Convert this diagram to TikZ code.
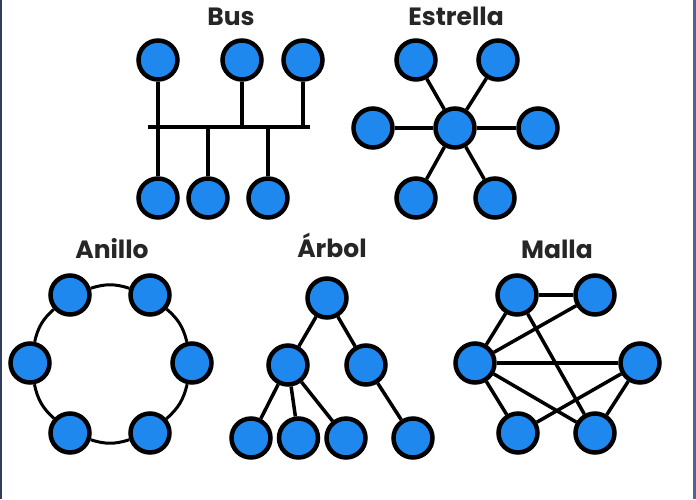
\documentclass[tikz,border=0pt]{standalone}
\usepackage{fontspec}
\setmainfont{Poppins}
\usepackage{xcolor}
\definecolor{nodeblue}{RGB}{30,136,238}
\definecolor{frameleft}{RGB}{47,62,92}
\definecolor{frameright}{RGB}{72,102,150}

\begin{document}
\begin{tikzpicture}[x=1pt,y=-1pt,every node/.style={shape=circle,align=center},
    host/.style={draw,line width=4.5pt,fill=nodeblue,minimum size=39pt,inner sep=0pt},
    link/.style={line width=3.5pt},
    title/.style={shape=rectangle,anchor=base,inner sep=0pt,font=\fontsize{25}{30}\selectfont\bfseries,text=black!85},
    edge from parent/.style={draw,line width=3.5pt},
    level 1/.style={sibling distance=78pt,level distance=67pt},
    level 2/.style={sibling distance=47.5pt,level distance=73pt}]
  \useasboundingbox (0,0) rectangle (696,499);
  \fill[frameleft] (0,0) rectangle (2,499);
  \fill[frameright] (693,0) rectangle (696,499);

  % bus
  \node[title] (tbus) at (231,25) {Bus};
  \node[host] (bus1) at (158,60) {};
  \node[host] (bus2) at (242,60) {};
  \node[host] (bus3) at (303,60) {};
  \node[host] (bus4) at (158,198) {};
  \node[host] (bus5) at (208,198) {};
  \node[host] (bus6) at (268,198) {};
  \coordinate (busL) at (148,127);
  \coordinate (busR) at (310,127);
  \draw[link] (busL) -- (busR);
  \foreach \n in {1,...,6} \draw[link] (bus\n) -- (bus\n |- busL);

  % estrella
  \node[title] (tstar) at (456,25) {Estrella};
  \node[host] (hub) at (455,128) {};
  \node[host] (st1) at (416,60) {};
  \node[host] (st2) at (498,60) {};
  \node[host] (st3) at (538,128) {};
  \node[host] (st4) at (495,198) {};
  \node[host] (st5) at (416,198) {};
  \node[host] (st6) at (373,128) {};
  \foreach \n in {1,...,6} \draw[link] (hub) -- (st\n);

  % anillo
  \node[title] (tring) at (112,258) {Anillo};
  \node[host] (r1) at (70,295) {};
  \node[host] (r2) at (150,295) {};
  \node[host] (r3) at (192,363) {};
  \node[host] (r4) at (150,433) {};
  \node[host] (r5) at (70,433) {};
  \node[host] (r6) at (30,363) {};
  \foreach \a/\b in {1/2,2/3,3/4,4/5,5/6,6/1} \draw[link,line width=3pt] (r\a) to[bend left=18] (r\b);

  % arbol
  \node[title] (ttree) at (332,257) {Árbol};
  \node[host] (root) at (327,298) {}
    child {node[host] (tl) {}
      child[xshift=10.5pt] {node[host] (leaf1) {}}
      child[xshift=10.5pt] {node[host] (leaf2) {}}
      child[xshift=10.5pt] {node[host] (leaf3) {}}}
    child {node[host] (tr) {}
      child[xshift=47pt] {node[host] (leaf4) {}}};

  % malla
  \node[title] (tmesh) at (557,258) {Malla};
  \node[host] (m1) at (517,295) {};
  \node[host] (m2) at (595,295) {};
  \node[host] (m3) at (475,363) {};
  \node[host] (m4) at (640,363) {};
  \node[host] (m5) at (518,433) {};
  \node[host] (m6) at (595,433) {};
  \foreach \a/\b in {1/2,1/3,3/2,1/6,3/4,3/6,3/5,5/4,4/6} \draw[link] (m\a) -- (m\b);
\end{tikzpicture}
\end{document}
